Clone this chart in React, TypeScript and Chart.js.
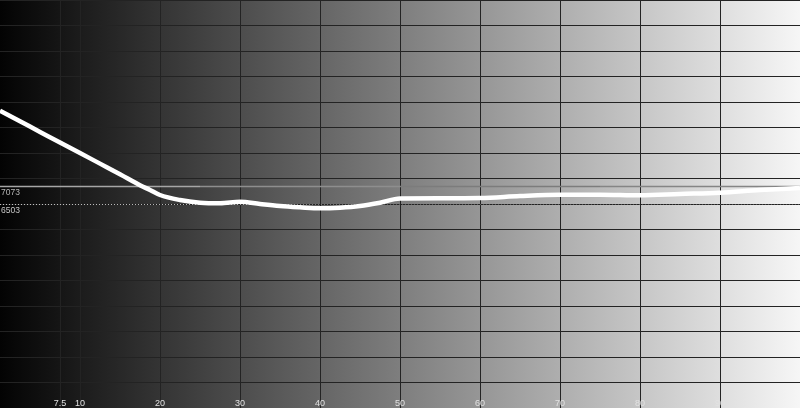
import React, { useEffect, useRef } from 'react';
import Chart from 'chart.js/auto';

// --- data ---
const levels = [0, 2.5, 5, 7.5, 10, 12.5, 15, 17.5, 18.75, 20, 22.5, 25, 27.5, 30, 32.5, 35, 37.5, 40, 42.5, 45, 47.5, 50, 55, 60, 65, 70, 75, 80, 85, 90, 95, 100];
const colorTemp = [9430, 9097, 8765, 8432, 8103, 7770, 7438, 7095, 6942, 6785, 6628, 6544, 6525, 6575, 6503, 6440, 6399, 6368, 6387, 6440, 6544, 6676, 6682, 6688, 6754, 6795, 6795, 6776, 6817, 6857, 6942, 7005];

const xTicks = [7.5, 10, 20, 30, 40, 50, 60, 70, 80, 90, 100];
const xTickLabels = ['7.5', '10', '20', '30', '40', '50', '60', '70', '80', '90'];

const refSolid = 7073;
const refDotted = 6503;

const yMin = 103;
const yMax = 12903;
const yStep = 800;

const backdrop = {
  id: 'backdrop',
  beforeDraw(chart) {
    const { ctx, chartArea: a } = chart;
    const g = ctx.createLinearGradient(a.left, 0, a.right, 0);
    g.addColorStop(0, '#030303');
    g.addColorStop(0.5, '#7e7e7e');
    g.addColorStop(1, '#f6f6f6');
    ctx.save();
    ctx.fillStyle = g;
    ctx.fillRect(a.left, a.top, a.right - a.left, a.bottom - a.top);
    ctx.restore();
  },
};

const refLines = {
  id: 'refLines',
  beforeDatasetsDraw(chart) {
    const { ctx, chartArea: a, scales } = chart;
    const x = scales.x;
    const y = scales.y;
    ctx.save();

    // solid reference line, shaded so it reads on the gradient
    const ys = Math.round(y.getPixelForValue(refSolid)) + 0.5;
    const parts = [
      [0, 25, '#a6a6a6'],
      [25, 50, '#8e8e8e'],
      [50, 75, '#7c7c7c'],
      [75, 100, '#858585'],
    ];
    ctx.lineWidth = 1.5;
    parts.forEach(([s, e, c]) => {
      ctx.strokeStyle = c as string;
      ctx.beginPath();
      ctx.moveTo(x.getPixelForValue(s as number), ys);
      ctx.lineTo(x.getPixelForValue(e as number), ys);
      ctx.stroke();
    });

    // dotted reference line
    const yd = Math.round(y.getPixelForValue(refDotted)) + 0.5;
    const g = ctx.createLinearGradient(a.left, 0, a.right, 0);
    g.addColorStop(0, '#c4c4c4');
    g.addColorStop(0.3, '#b0b0b0');
    g.addColorStop(0.45, '#5a5a5a');
    g.addColorStop(1, '#555555');
    ctx.strokeStyle = g;
    ctx.lineWidth = 1;
    ctx.setLineDash([1, 2]);
    ctx.beginPath();
    ctx.moveTo(a.left, yd);
    ctx.lineTo(a.right, yd);
    ctx.stroke();
    ctx.setLineDash([]);

    ctx.font = '8.5px "Liberation Sans", Arial, sans-serif';
    ctx.textBaseline = 'top';
    ctx.textAlign = 'left';
    ctx.fillStyle = '#b8b8b8';
    ctx.fillText(String(refSolid), a.left + 1, ys + 2);
    ctx.fillStyle = '#c8c8c8';
    ctx.fillText(String(refDotted), a.left + 1, yd + 2);
    ctx.restore();
  },
  afterDraw(chart) {
    const { ctx, chartArea: a, scales } = chart;
    ctx.save();
    ctx.font = '9px "Liberation Sans", Arial, sans-serif';
    ctx.textAlign = 'center';
    ctx.textBaseline = 'alphabetic';
    ctx.fillStyle = '#e2e2e2';
    xTickLabels.forEach((t, i) => {
      ctx.fillText(t, scales.x.getPixelForValue(xTicks[i]), a.bottom - 2);
    });
    ctx.restore();
  },
};

export default function App() {
  const canvasRef = useRef(null);
  const chartRef = useRef(null);

  useEffect(() => {
    document.body.style.margin = '0';
    if (!canvasRef.current) return;
    if (chartRef.current) chartRef.current.destroy();

    chartRef.current = new Chart(canvasRef.current.getContext('2d'), {
      type: 'line',
      data: {
        datasets: [
          {
            label: 'Color temperature',
            data: levels.map((l, i) => ({ x: l, y: colorTemp[i] })),
            borderColor: '#ffffff',
            borderWidth: 4.5,
            pointRadius: 0,
            cubicInterpolationMode: 'monotone',
            fill: false,
          },
        ],
      },
      options: {
        animation: false,
        responsive: true,
        maintainAspectRatio: false,
        layout: { padding: 0, autoPadding: false },
        plugins: {
          legend: { display: false },
          tooltip: { enabled: false },
        },
        scales: {
          x: {
            type: 'linear',
            min: 0,
            max: 100,
            afterBuildTicks: (scale) => {
              scale.ticks = xTicks.map((v) => ({ value: v }));
            },
            ticks: { display: false },
            border: { display: false },
            grid: { color: '#232323', lineWidth: 1, drawTicks: false },
          },
          y: {
            min: yMin,
            max: yMax,
            ticks: { display: false, stepSize: yStep },
            border: { display: false },
            grid: { color: '#232323', lineWidth: 1, drawTicks: false },
          },
        },
      },
      plugins: [backdrop, refLines],
    });

    return () => {
      if (chartRef.current) {
        chartRef.current.destroy();
        chartRef.current = null;
      }
    };
  }, []);

  return (
    <div style={{ position: 'relative', width: '800px', height: '408px', overflow: 'hidden' }}>
      <canvas ref={canvasRef}></canvas>
    </div>
  );
}
